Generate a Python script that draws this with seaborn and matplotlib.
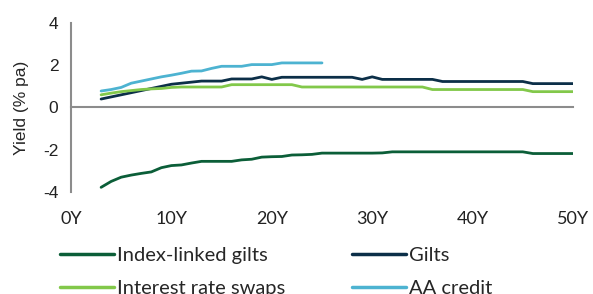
import pandas as pd
import seaborn as sns
import matplotlib.pyplot as plt

# yield curves by term (years)
years = list(range(3, 51))
aa_years = list(range(3, 26))

index_linked = [-3.78, -3.5, -3.3, -3.2, -3.12, -3.05, -2.85, -2.75, -2.72, -2.63,
                -2.55, -2.55, -2.55, -2.55, -2.48, -2.45, -2.35, -2.33, -2.32, -2.25,
                -2.24, -2.22, -2.16, -2.16, -2.16, -2.16, -2.16, -2.16, -2.15, -2.1,
                -2.1, -2.1, -2.1, -2.1, -2.1, -2.1, -2.1, -2.1, -2.1, -2.1,
                -2.1, -2.1, -2.1, -2.18, -2.18, -2.18, -2.18, -2.18]
gilts = [0.4, 0.5, 0.6, 0.7, 0.8, 0.9, 1.0, 1.1, 1.15, 1.2,
         1.25, 1.25, 1.25, 1.35, 1.35, 1.35, 1.45, 1.33, 1.43, 1.43,
         1.43, 1.43, 1.43, 1.43, 1.43, 1.43, 1.33, 1.45, 1.33, 1.33,
         1.33, 1.33, 1.33, 1.33, 1.23, 1.23, 1.23, 1.23, 1.23, 1.23,
         1.23, 1.23, 1.23, 1.13, 1.13, 1.13, 1.13, 1.13]
swaps = [0.6, 0.68, 0.75, 0.8, 0.85, 0.88, 0.9, 0.95, 0.97, 0.97,
         0.97, 0.97, 0.97, 1.08, 1.08, 1.08, 1.08, 1.08, 1.08, 1.08,
         0.97, 0.97, 0.97, 0.97, 0.97, 0.97, 0.97, 0.97, 0.97, 0.97,
         0.97, 0.97, 0.97, 0.85, 0.85, 0.85, 0.85, 0.85, 0.85, 0.85,
         0.85, 0.85, 0.85, 0.75, 0.75, 0.75, 0.75, 0.75]
aa_credit = [0.78, 0.85, 0.95, 1.15, 1.25, 1.35, 1.45, 1.53, 1.62, 1.72,
             1.73, 1.85, 1.95, 1.95, 1.95, 2.03, 2.03, 2.03, 2.11, 2.11,
             2.11, 2.11, 2.11]

series = ["Index-linked gilts", "Gilts", "Interest rate swaps", "AA credit"]
colors = ["#0b5e38", "#0c2f48", "#82c84a", "#4db3d1"]

df = pd.concat([
    pd.DataFrame({"term": years, "yield": index_linked, "series": series[0]}),
    pd.DataFrame({"term": years, "yield": gilts, "series": series[1]}),
    pd.DataFrame({"term": years, "yield": swaps, "series": series[2]}),
    pd.DataFrame({"term": aa_years, "yield": aa_credit, "series": series[3]}),
])

sns.set_style("white")
plt.rcParams['font.family'] = ['Lato', 'DejaVu Sans']
grey = "#8c8c8c"

fig = plt.figure(figsize=(5.93, 2.94), dpi=100)
ax = fig.add_axes([0.1197, 0.347, 0.8466, 0.5748])

sns.lineplot(data=df, x="term", y="yield", hue="series", hue_order=series,
             palette=colors, linewidth=2.0, ax=ax, legend=False)

ax.set_xlim(0, 50)
ax.set_ylim(-4, 4)
ax.set_yticks([-4, -2, 0, 2, 4])
ax.set_yticklabels(["-4", "-2", "0", "2", "4"], fontfamily="Liberation Sans", fontsize=12.5)
ax.set_xticks([0, 10, 20, 30, 40, 50])
ax.set_xlabel("")
ax.set_ylabel("Yield (% pa)", fontfamily="Liberation Sans", fontsize=12.5, labelpad=10)

# x axis line sits at zero, labels stay at the bottom
for s in ["top", "right"]:
    ax.spines[s].set_visible(False)
ax.spines["bottom"].set_position(("data", 0))
for s in ["left", "bottom"]:
    ax.spines[s].set_color(grey)
    ax.spines[s].set_linewidth(1.5)
ax.tick_params(axis="both", colors=grey, direction="out", length=5, width=1.5)
ax.tick_params(axis="x", labelbottom=False)
ax.tick_params(axis="y", labelcolor="#222222", pad=4)

sec = ax.secondary_xaxis("bottom")
sec.set_xticks([0, 10, 20, 30, 40, 50])
sec.set_xticklabels([f"{t}Y" for t in [0, 10, 20, 30, 40, 50]], fontsize=13, color="#222222")
sec.tick_params(length=0, pad=14)
sec.spines["bottom"].set_visible(False)

handles = [plt.Line2D([], [], color=c, linewidth=2.5) for c in colors]
order = [0, 2, 1, 3]
fig.legend([handles[i] for i in order], [series[i] for i in order],
           ncol=2, loc="upper left", bbox_to_anchor=(0.101, 0.16),
           frameon=False, fontsize=14.5, handlelength=2.7, handletextpad=0.15,
           columnspacing=3.3, labelspacing=0.8, borderaxespad=0, borderpad=0)

fig.savefig("out.png", dpi=100)
